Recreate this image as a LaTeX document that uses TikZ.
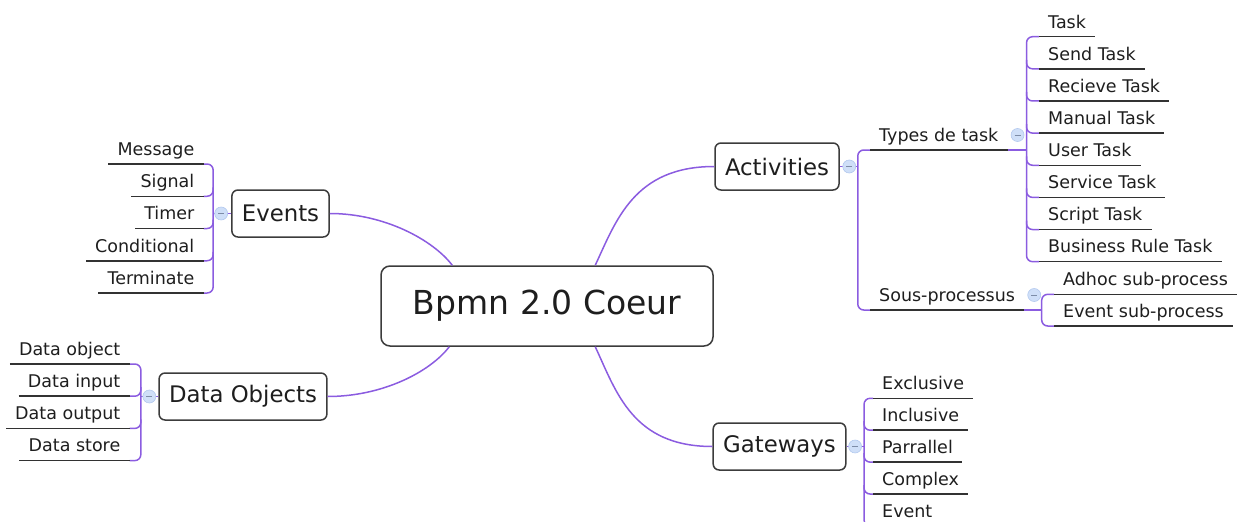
\documentclass[tikz,border=0pt]{standalone}
\usepackage{fontspec}
\setmainfont{DejaVu Sans}
\usetikzlibrary{calc}
\definecolor{branch}{RGB}{139,92,224}
\definecolor{uline}{RGB}{50,50,50}
\definecolor{boxline}{RGB}{60,60,60}
\definecolor{ink}{RGB}{30,30,30}
\definecolor{knobfill}{RGB}{207,223,248}
\definecolor{knobrim}{RGB}{178,200,238}
\tikzset{
  core/.style={draw=boxline, line width=1.5pt, rounded corners=9pt, fill=white, text=ink,
    minimum width=332pt, minimum height=80pt, font=\fontsize{33}{40}\selectfont},
  topic/.style={draw=boxline, line width=1.5pt, rounded corners=6pt, fill=white, text=ink,
    inner xsep=10pt, minimum height=47pt, font=\fontsize{22.8}{27}\selectfont},
  leaf/.style={text=ink, inner xsep=9pt, inner ysep=4pt, text height=12.5pt, text depth=4.5pt,
    font=\fontsize{17.5}{21}\selectfont},
  leafR/.style={leaf, anchor=south west},
  leafL/.style={leaf, anchor=south east},
  link/.style={draw=branch, line width=1.5pt},
  fork/.style={link, rounded corners=6pt},
  under/.style={draw=uline, line width=1.5pt},
  knob/.style={circle, draw=knobrim, fill=knobfill, line width=0.6pt, minimum size=13pt, inner sep=0pt,
    path picture={\draw[knobrim!70!black, line width=0.8pt]
      ([xshift=-3pt]path picture bounding box.center) -- ([xshift=3pt]path picture bounding box.center);}}
}
\begin{document}
\begin{tikzpicture}[x=1pt, y=-1pt]
  \useasboundingbox (0,0) rectangle (1237,522);

  \node[core] (core) at (547,306) {Bpmn 2.0 Coeur};
  \node[topic] (events) at (280.5,213.5) {Events};
  \node[topic] (data) at (243,396.5) {Data Objects};
  \node[topic] (act) at (777,166.5) {Activities};
  \node[topic] (gate) at (779.5,446.5) {Gateways};

  \coordinate (coreEv) at ($(core.north west)+(72,0)$);
  \coordinate (coreDat) at ($(core.south west)+(69,0)$);
  \coordinate (coreAct) at ($(core.north west)+(215,0)$);
  \coordinate (coreGate) at ($(core.south west)+(215,0)$);
  \draw[link] (events.east) .. controls +(55,0) and +(-19,-25) .. (coreEv);
  \draw[link] (data.east) .. controls +(55,0) and +(-19,25) .. (coreDat);
  \draw[link] (act.west) .. controls +(-80,0) and +(21,-45) .. (coreAct);
  \draw[link] (gate.west) .. controls +(-80,0) and +(21,45) .. (coreGate);

  % events
  \coordinate (evbar) at ($(events.west)+(-18,0)$);
  \foreach \t [count=\i] in {Message,Signal,Timer,Conditional,Terminate}
    \node[leafL] (ev\i) at (203.5,{164+32.25*(\i-1)}) {\t};
  \draw[fork] (ev1.south east) -| (evbar) |- (ev5.south east);
  \foreach \i in {2,3,4}
    \draw[fork] ($(ev\i.south east -| evbar)+(0,-9)$) |- (ev\i.south east);
  \foreach \i in {1,...,5}
    \draw[under] (ev\i.south west) -- (ev\i.south east);
  \draw[link] (events.west) -- (evbar);
  \node[knob] (evknob) at ($(events.west)+(-10,0)$) {};

  % data objects
  \coordinate (datbar) at ($(data.west)+(-17.5,0)$);
  \foreach \t [count=\i] in {Data object,Data input,Data output,Data store}
    \node[leafL] (dat\i) at (129.5,{364+32.2*(\i-1)}) {\t};
  \draw[fork] (dat1.south east) -| (datbar) |- (dat4.south east);
  \foreach \i in {2,3}
    \draw[fork] ($(dat\i.south east -| datbar)+(0,-9)$) |- (dat\i.south east);
  \foreach \i in {1,...,4}
    \draw[under] (dat\i.south west) -- (dat\i.south east);
  \draw[link] (data.west) -- (datbar);
  \node[knob] (datknob) at ($(data.west)+(-9,0)$) {};

  % activities
  \coordinate (actbar) at ($(act.east)+(18,0)$);
  \node[leafR] (types) at (870,150) {Types de task};
  \node[leafR] (sous) at (870,310) {Sous-processus};
  \draw[fork] (types.south west) -| (actbar) |- (sous.south west);
  \draw[link] (act.east) -- (actbar);

  \coordinate (taskbar) at ($(types.south east)+(19,0)$);
  \foreach \t [count=\i] in {Task,Send Task,Recieve Task,Manual Task,User Task,Service Task,Script Task,Business Rule Task}
    \node[leafR] (task\i) at (1039,{36.7+32.14*(\i-1)}) {\t};
  \draw[fork] (task1.south west) -| (taskbar) |- (task8.south west);
  \foreach \i in {2,...,7}
    \draw[fork] ($(task\i.south west -| taskbar)+(0,-9)$) |- (task\i.south west);
  \foreach \i in {1,...,8}
    \draw[under] (task\i.south west) -- (task\i.south east);
  \draw[link] (types.south east) -- (taskbar);

  \coordinate (subbar) at ($(sous.south east)+(17.5,0)$);
  \node[leafR] (sub1) at (1054,294.3) {Adhoc sub-process};
  \node[leafR] (sub2) at (1054,326) {Event sub-process};
  \draw[fork] (sub1.south west) -| (subbar) |- (sub2.south west);
  \draw[under] (sub1.south west) -- (sub1.south east);
  \draw[under] (sub2.south west) -- (sub2.south east);
  \draw[link] (sous.south east) -- (subbar);

  \draw[under] (types.south west) -- (types.south east);
  \draw[under] (sous.south west) -- (sous.south east);
  \node[knob] (actknob) at ($(act.east)+(9.5,0)$) {};
  \node[knob] (typesknob) at ($(types.south east)+(10,-15)$) {};
  \node[knob] (sousknob) at ($(sous.south east)+(10,-15)$) {};

  % gateways
  \coordinate (gatebar) at ($(gate.east)+(17.5,0)$);
  \foreach \t [count=\i] in {Exclusive,Inclusive,Parrallel,Complex,Event}
    \node[leafR] (gw\i) at (873,{398.3+31.9*(\i-1)}) {\t};
  \draw[fork] (gw1.south west) -| (gatebar) |- (gw5.south west);
  \foreach \i in {2,3,4}
    \draw[fork] ($(gw\i.south west -| gatebar)+(0,-9)$) |- (gw\i.south west);
  \foreach \i in {1,...,5}
    \draw[under] (gw\i.south west) -- (gw\i.south east);
  \draw[link] (gate.east) -- (gatebar);
  \node[knob] (gateknob) at ($(gate.east)+(8.5,0)$) {};
\end{tikzpicture}
\end{document}
